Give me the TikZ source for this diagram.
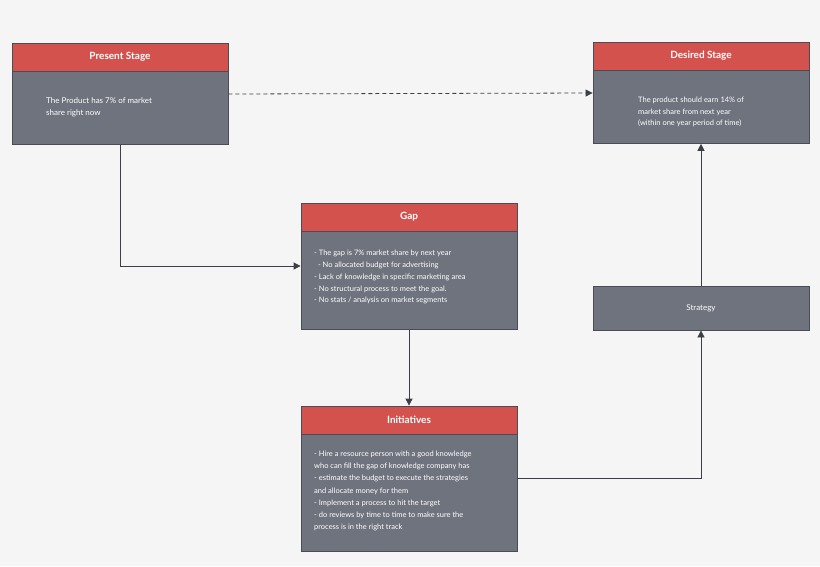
\documentclass[tikz,border=0pt]{standalone}
\usepackage{fontspec}
\setmainfont{Lato}
\usetikzlibrary{arrows.meta}
\definecolor{bg}{HTML}{F5F5F5}
\definecolor{hdr}{HTML}{D3524E}
\definecolor{bod}{HTML}{6F737E}
\definecolor{edge}{HTML}{4A4D55}
\definecolor{ln}{HTML}{3C3F45}
\begin{document}
\begin{tikzpicture}[x=1pt,y=-1pt,
 hd/.style={draw=edge,fill=hdr,line width=0.8pt,minimum width=216pt,minimum height=28pt,inner sep=0,text=white,font=\fontsize{10}{12}\selectfont\bfseries},
 bd/.style={draw=edge,fill=bod,line width=0.8pt,minimum width=216pt,inner sep=0,anchor=north},
 tx/.style={anchor=north west,text=white,align=left,inner sep=0,font=\fontsize{8}{12}\selectfont},
 ar/.style={draw=ln,line width=0.8pt,-{Triangle[length=7pt,width=7pt]}}]
\fill[bg] (0,0) rectangle (820,566);
\useasboundingbox (0,0) rectangle (820,566);
% Present
\node[bd,minimum height=73pt] (pb) at (120,71) {};
\node[hd] (ph) at (120,57) {Present Stage};
\node[tx] (pt) at (46,97) {The Product has 7\% of market\\share right now};
% Desired
\node[bd,minimum height=73pt] (db) at (701,70) {};
\node[hd] (dh) at (701,56) {Desired Stage};
\node[tx,font=\fontsize{7.5}{11.5}\selectfont] (dt) at (638,97) {The product should earn 14\% of\\market share from next year\\(within one year period of time)};
% Gap
\node[bd,minimum height=98pt] (gb) at (409,231) {};
\node[hd] (gh) at (409,217) {Gap};
\node[tx,font=\fontsize{7.5}{11.8}\selectfont] (gt) at (314,250) {- The gap is 7\% market share by next year\\\ \ - No allocated budget for advertising\\- Lack of knowledge in specific marketing area\\- No structural process to meet the goal.\\- No stats / analysis on market segments};
% Strategy
\node[draw=edge,fill=bod,line width=0.8pt,minimum width=216pt,minimum height=44pt,inner sep=0,text=white,font=\fontsize{8}{12}\selectfont] (st) at (701,308) {Strategy};
% Initiatives
\node[bd,minimum height=117pt] (ib) at (409,434) {};
\node[hd] (ih) at (409,420) {Initiatives};
\node[tx,font=\fontsize{7.5}{12.1}\selectfont] (it) at (314,451) {- Hire a resource person with a good knowledge\\who can fill the gap of knowledge company has\\- estimate the budget to execute the strategies\\and allocate money for them\\- Implement a process to hit the target\\- do reviews by time to time to make sure the\\process is in the right track};
% connectors
\draw[ar] (pb.south) |- (gb.west |- 0,266);
\draw[ar,dashed,dash pattern=on 4pt off 3pt] (pb.east |- 0,94) -- (db.west |- 0,93);
\draw[ar] (gb.south) -- (ih.north);
\draw[ar] (ib.east |- 0,478) -| (st.south);
\draw[ar] (st.north) -- (db.south);
\end{tikzpicture}
\end{document}
